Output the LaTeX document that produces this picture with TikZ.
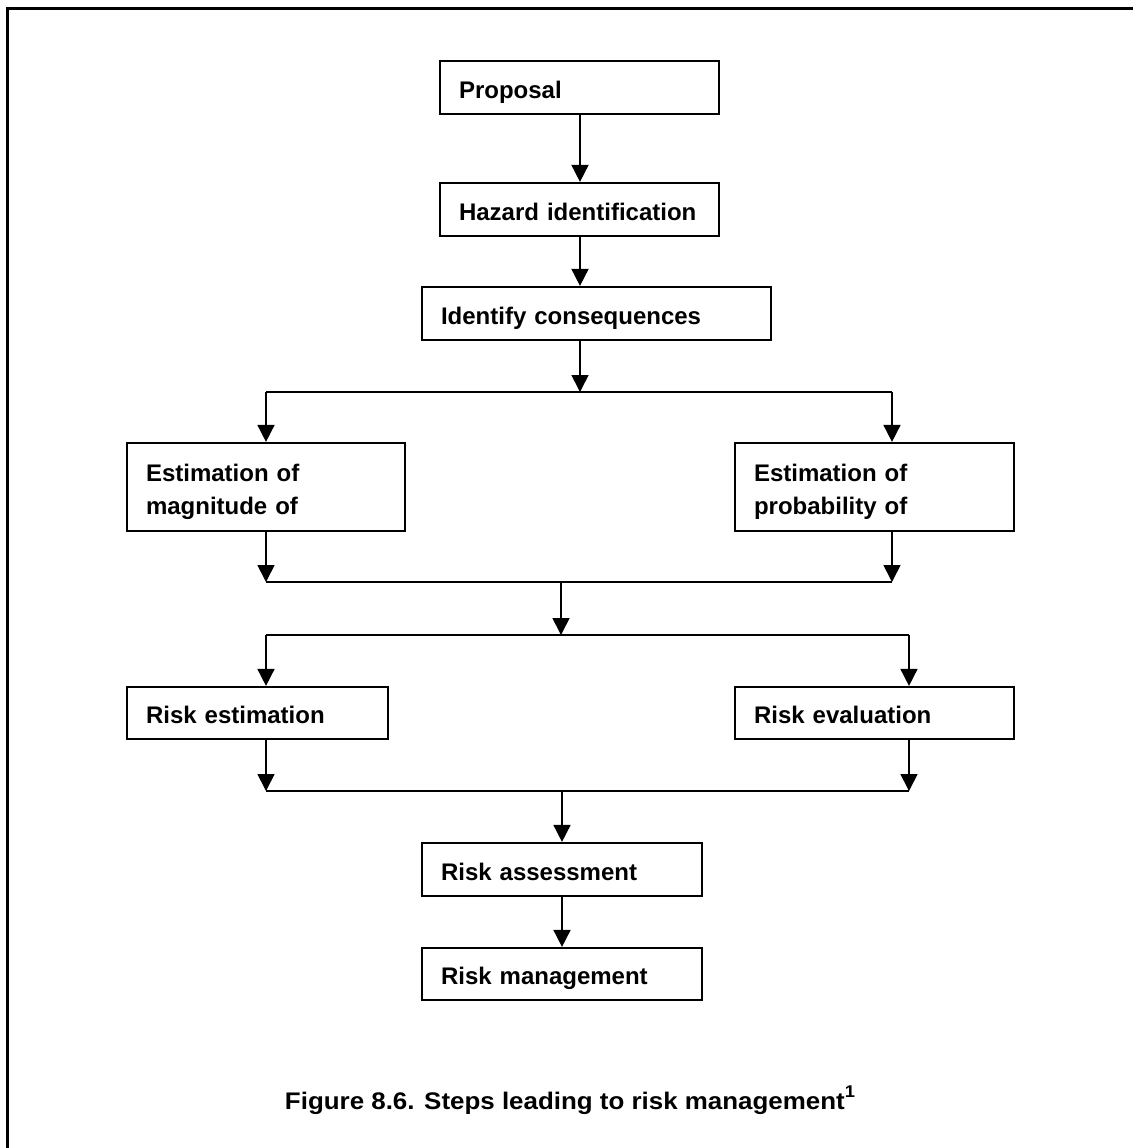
\documentclass[tikz,border=0pt]{standalone}
\usepackage{fontspec}
\setmainfont{Liberation Sans}
\newfontfamily\capfont{Liberation Sans}[FakeStretch=1.08]
\usetikzlibrary{arrows.meta}
\begin{document}
\begin{tikzpicture}[x=0.5pt,y=-0.5pt,
  stepbox/.style={draw, line width=1.1pt, rectangle, inner xsep=9.5pt, inner ysep=0pt,
    align=left, font=\bfseries\fontsize{12pt}{16.5pt}\selectfont,
    text height=10.5pt, text depth=0pt},
  twoline/.style={text height=10pt, text depth=16pt},
  conn/.style={line width=0.85pt},
  arr/.style={conn, -{Triangle[length=8.5pt,width=8.5pt]}}]
\useasboundingbox (0,0) rectangle (1133,1148);
% frame (top and left only)
\draw[line width=1.5pt] (7,1148) -- (7,8) -- (1133,8);
% boxes
\node[stepbox, minimum width=139.5pt, minimum height=26.5pt, text width=120.5pt] (prop) at (579.5,87.5) {Proposal};
\node[stepbox, minimum width=139.5pt, minimum height=26.5pt, text width=120.5pt] (haz) at (579.5,209.5) {Hazard identification};
\node[stepbox, minimum width=174.5pt, minimum height=26.5pt, text width=155.5pt] (cons) at (596.5,313.5) {Identify consequences};
\node[stepbox, twoline, minimum width=139pt, minimum height=44pt, text width=120pt] (mag) at (266,487) {Estimation of\\magnitude of};
\node[stepbox, twoline, minimum width=139.5pt, minimum height=44pt, text width=120.5pt] (prob) at (874.5,487) {Estimation of\\probability of};
\node[stepbox, minimum width=130.5pt, minimum height=26pt, text width=111.5pt] (rest) at (257.5,713) {Risk estimation};
\node[stepbox, minimum width=139.5pt, minimum height=26pt, text width=120.5pt] (reval) at (874.5,713) {Risk evaluation};
\node[stepbox, minimum width=140pt, minimum height=26.5pt, text width=121pt] (rass) at (562,869.5) {Risk assessment};
\node[stepbox, minimum width=140pt, minimum height=26pt, text width=121pt] (rman) at (562,974) {Risk management};
% caption
\node[anchor=base, inner sep=0pt, font=\capfont\bfseries\fontsize{12pt}{14pt}\selectfont] (cap) at (570,1109) {Figure 8.6. Steps leading to risk management\raisebox{0.5em}{\fontsize{8.5pt}{8.5pt}\selectfont 1}};
% junction coordinates
\coordinate (b1) at (580,392);
\coordinate (b1l) at (266,392);
\coordinate (b1r) at (892,392);
\coordinate (m1l) at (266,582);
\coordinate (m1r) at (892,582);
\coordinate (m1c) at (561,582);
\coordinate (b2c) at (561,635);
\coordinate (b2l) at (266,635);
\coordinate (b2r) at (909,635);
\coordinate (m2l) at (266,791);
\coordinate (m2r) at (909,791);
\coordinate (m2c) at (562,791);
% connectors
\draw[arr] (b1 |- prop.south) -- (b1 |- haz.north);
\draw[arr] (b1 |- haz.south) -- (b1 |- cons.north);
\draw[arr] (b1 |- cons.south) -- (b1);
\draw[conn] (b1l) -- (b1r);
\draw[arr] (b1l) -- (b1l |- mag.north);
\draw[arr] (b1r) -- (b1r |- prob.north);
\draw[arr] (m1l |- mag.south) -- (m1l);
\draw[arr] (m1r |- prob.south) -- (m1r);
\draw[conn] (m1l) -- (m1r);
\draw[arr] (m1c) -- (b2c);
\draw[conn] (b2l) -- (b2r);
\draw[arr] (b2l) -- (b2l |- rest.north);
\draw[arr] (b2r) -- (b2r |- reval.north);
\draw[arr] (m2l |- rest.south) -- (m2l);
\draw[arr] (m2r |- reval.south) -- (m2r);
\draw[conn] (m2l) -- (m2r);
\draw[arr] (m2c) -- (rass.north);
\draw[arr] (rass.south) -- (rman.north);
\end{tikzpicture}
\end{document}
